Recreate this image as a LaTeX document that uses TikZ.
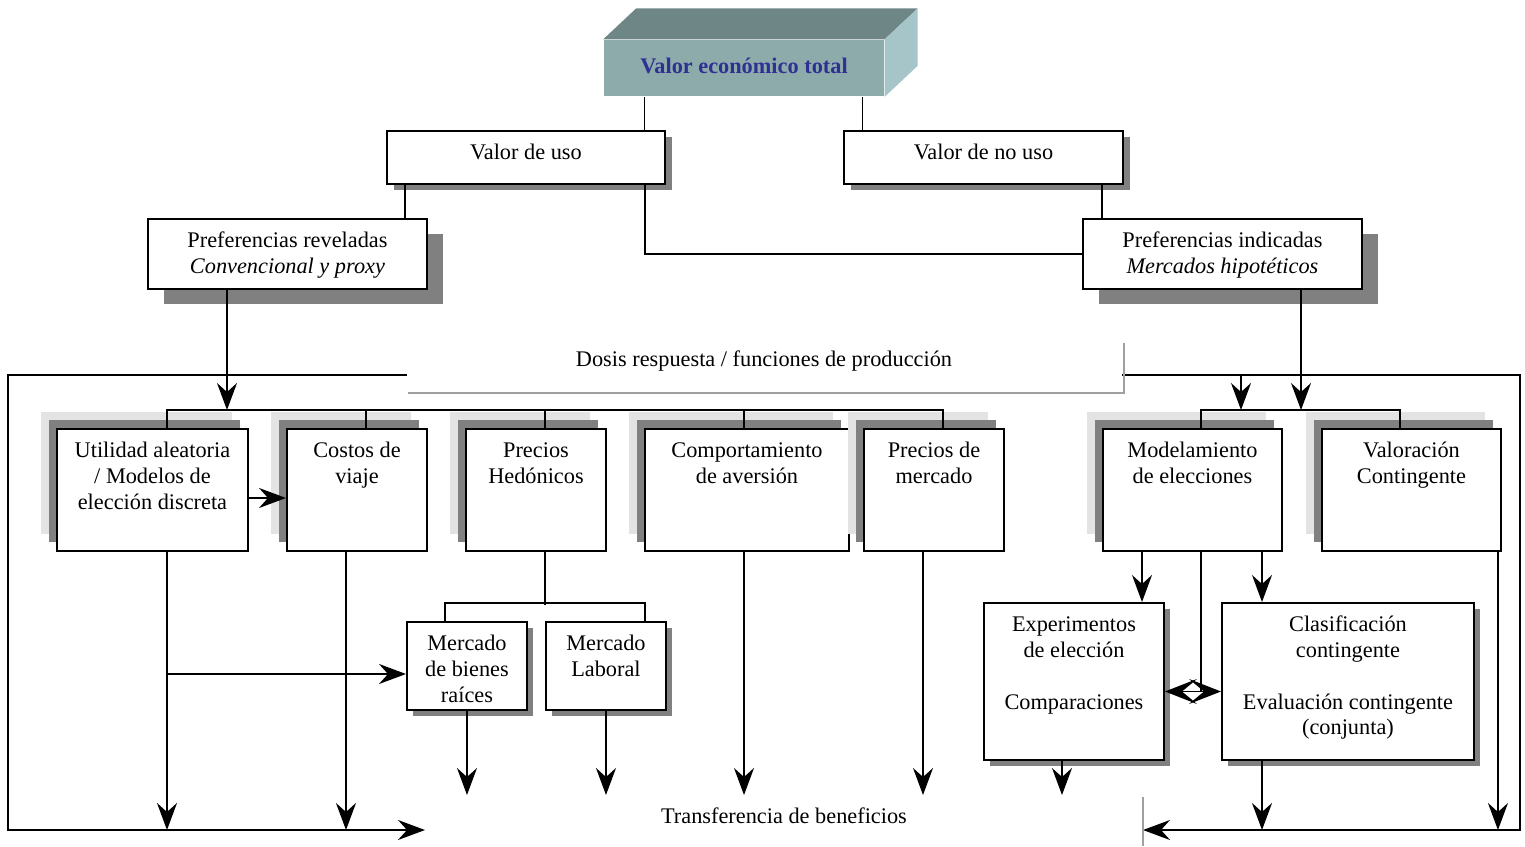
\documentclass[tikz,border=0pt]{standalone}
\usepackage{fontspec}
\setmainfont{Liberation Serif}
\usepackage{xcolor}
\usetikzlibrary{arrows.meta,calc,shadows,positioning}

\definecolor{shadowgray}{HTML}{808080}
\definecolor{palegray}{HTML}{E3E3E3}
\definecolor{framegray}{HTML}{A0A0A0}
\definecolor{frontface}{HTML}{8EABAC}
\definecolor{topface}{HTML}{6F8687}
\definecolor{sideface}{HTML}{A6C5C8}
\definecolor{titleblue}{HTML}{2E3192}

\newcommand{\boxfont}{\fontsize{12.7}{14.7}\selectfont}
% caja de texto alineada arriba (ancho y alto en pixeles del dibujo)
\newcommand{\boxtext}[3]{\parbox[c][\dimexpr0.2mm*#2\relax][t]{\dimexpr0.2mm*#1\relax}{\centering\vspace*{6pt}\strut#3}}

\tikzset{
    box/.style={draw, line width=0.4mm, fill=white, inner sep=0pt, anchor=north west, font=\boxfont},
    dropshade/.style 2 args={general shadow={fill=shadowgray, shadow xshift=#1, shadow yshift=#2}},
    backshadow/.style={general shadow={fill=palegray, shadow xshift=-3.2mm, shadow yshift=3.4mm},
                       general shadow={fill=shadowgray, shadow xshift=-1.6mm, shadow yshift=1.8mm}}
}

\begin{document}
\begin{tikzpicture}[x=0.02cm, y=-0.02cm, line width=0.3mm,
    >={Stealth[length=5.4mm, width=4mm, inset=1.8mm]}]
    \useasboundingbox (0,0) rectangle (1525,846);

    % Valor economico total (caja 3D)
    \node[fill=frontface, minimum width=56mm, minimum height=11.2mm, inner sep=0pt,
          font=\boxfont\bfseries, text=titleblue] (tev) at (744,68) {\raisebox{2pt}{Valor económico total}};
    \fill[topface] (tev.north west) -- ++(33,-31) -- ($(tev.north east)+(33,-31)$) -- (tev.north east) -- cycle;
    \fill[sideface] (tev.north east) -- ++(33,-31) -- ($(tev.south east)+(33,-31)$) -- (tev.south east) -- cycle;

    % Valor de uso / no uso
    \node[box, dropshade={1.4mm}{-1.2mm}] (vu) at (386,130) {\boxtext{278}{53}{Valor de uso}};
    \node[box, dropshade={1.4mm}{-1.2mm}] (vnu) at (843,130) {\boxtext{279}{53}{Valor de no uso}};

    % Preferencias
    \node[box, dropshade={3.2mm}{-3mm}] (prv) at (147,218) {\boxtext{279}{70}{Preferencias reveladas\\\textit{Convencional y proxy}}};
    \node[box, dropshade={3.2mm}{-3mm}] (pri) at (1082,218) {\boxtext{279}{70}{Preferencias indicadas\\\textit{Mercados hipotéticos}}};

    % Metodos
    \node[box, backshadow] (ua) at (56,428) {\boxtext{191}{122}{Utilidad aleatoria\\/ Modelos de\\elección discreta}};
    \node[box, backshadow] (cv) at (286,428) {\boxtext{140}{122}{Costos de\\viaje}};
    \node[box, backshadow] (ph) at (465,428) {\boxtext{140}{122}{Precios\\Hedónicos}};
    \node[box, backshadow] (ca) at (644,428) {\boxtext{204}{122}{Comportamiento\\de aversión}};
    \node[box, backshadow] (pm) at (863,428) {\boxtext{140}{122}{Precios de\\mercado}};
    \node[box, backshadow] (me) at (1102,428) {\boxtext{179}{122}{Modelamiento\\de elecciones}};
    \node[box, backshadow] (vc) at (1321,428) {\boxtext{179}{122}{Valoración\\Contingente}};

    % Submetodos
    \node[box, dropshade={1.2mm}{-1.2mm}] (mbr) at (406,621) {\boxtext{120}{88}{Mercado\\de bienes\\raíces}};
    \node[box, dropshade={1.2mm}{-1.2mm}] (ml) at (545,621) {\boxtext{120}{88}{Mercado\\Laboral}};
    \node[box, dropshade={1.2mm}{-1.2mm}] (ee) at (983,602) {\boxtext{180}{157}{Experimentos\\de elección\\\strut\\Comparaciones}};
    \node[box, dropshade={1.2mm}{-1.2mm}] (cc) at (1221,602) {\boxtext{252}{157}{Clasificación\\contingente\\\strut\\Evaluación contingente\\(conjunta)}};

    % Textos sueltos
    \node[font=\boxfont] (dosis) at (764,361) {Dosis respuesta / funciones de producción};
    \node[font=\boxfont] (tb) at (784,816) {Transferencia de beneficios};

    % Conexiones superiores
    \draw ($(tev.south west)+(41,0)$) coordinate (t1) -- (t1 |- vu.north);
    \draw ($(tev.south west)+(259,0)$) coordinate (t2) -- (t2 |- vnu.north);
    \draw ($(vu.south west)+(19,0)$) coordinate (u1) -- (u1 |- prv.north);
    \draw ($(vu.south west)+(259,0)$) coordinate (u2) |- (pri.west);
    \draw ($(vnu.south west)+(259,0)$) coordinate (n1) -- (n1 |- pri.north);

    % Barras de los metodos
    \coordinate (barL) at ($(ua.north west)+(111,-18)$);
    \coordinate (barR) at ($(me.north west)+(99,-18)$);
    \draw ($(ua.north west)+(111,0)$) -- (barL) -- ($(pm.north west)+(80,-18)$) -- ++(0,18);
    \foreach \n in {cv,ph}
        \draw ($(\n.north west)+(80,0)$) -- ++(0,-18);
    \draw ($(ca.north west)+(100,0)$) -- ++(0,-18);
    \draw ($(me.north west)+(99,0)$) -- (barR) -- ($(vc.north west)+(79,-18)$) -- ++(0,18);
    \draw[->] ($(prv.south west)+(80,0)$) coordinate (r1) -- (r1 |- barL);
    \draw[->] ($(pri.south west)+(219,0)$) coordinate (i1) -- (i1 |- barR);

    % Marcos (dosis respuesta y transferencia)
    \coordinate (fL) at (407,375);
    \coordinate (fLend) at (425,830);
    \coordinate (fR) at (1122,375);
    \coordinate (fRend) at (1143,830);
    \coordinate (fBot) at (0,830);
    \coordinate (fMid) at (0,795);
    \draw[->] (fL) -- (8,375) |- (fLend);
    \draw[->] (fR) -- (1520,375) |- (fRend);
    \coordinate (m2) at (1241,375);
    \draw[->] (m2) -- (m2 |- barR);
    \draw[framegray] (408,393) -- (1124,393) -- (1124,343);
    \draw[framegray] (1143,797) -- (1143,846);

    % Flechas hacia abajo
    \draw[->] ($(ua.south west)+(111,0)$) coordinate (a1) -- (a1 |- fBot);
    \draw[->] ($(cv.south west)+(60,0)$) coordinate (a2) -- (a2 |- fBot);
    \coordinate (b1) at ($(mbr.west)+(0,8)$);
    \draw[->] (a1 |- b1) -- (b1);
    \draw[->] ($(ua.east)+(0,8)$) -- ($(cv.west)+(0,8)$);
    \draw ($(ph.south west)+(80,0)$) -- ++(0,53);
    \draw ($(mbr.north west)+(39,0)$) -- ++(0,-18) -- ($(ml.north west)+(100,-18)$) -- ++(0,18);
    \draw[->] (mbr.south) -- (mbr.south |- fMid);
    \draw[->] (ml.south) -- (ml.south |- fMid);
    \draw[->] ($(ca.south west)+(100,0)$) coordinate (a3) -- (a3 |- fMid);
    \draw[->] ($(pm.south west)+(60,0)$) coordinate (a4) -- (a4 |- fMid);
    \draw[->] ($(ee.south west)+(79,0)$) coordinate (a5) -- (a5 |- fMid);

    % Modelamiento de elecciones
    \draw[->] ($(me.south west)+(40,0)$) coordinate (m3) -- (m3 |- ee.north);
    \draw ($(me.south west)+(99,0)$) coordinate (m4) -- ($(m4 |- ee.east)+(0,10)$);
    \draw[->] ($(me.south west)+(160,0)$) coordinate (m5) -- (m5 |- cc.north);
    \draw[{Stealth[length=6.4mm, width=5mm, inset=3mm]}-{Stealth[length=6.4mm, width=5mm, inset=3mm]}]
        ($(ee.east)+(0,10)$) -- ($(cc.west)+(0,10)$);
    \draw[->] ($(cc.south west)+(41,0)$) coordinate (a6) -- (a6 |- fBot);
    \draw[->] ($(vc.south east)+(-4,0)$) coordinate (a7) -- (a7 |- fBot);
\end{tikzpicture}
\end{document}
